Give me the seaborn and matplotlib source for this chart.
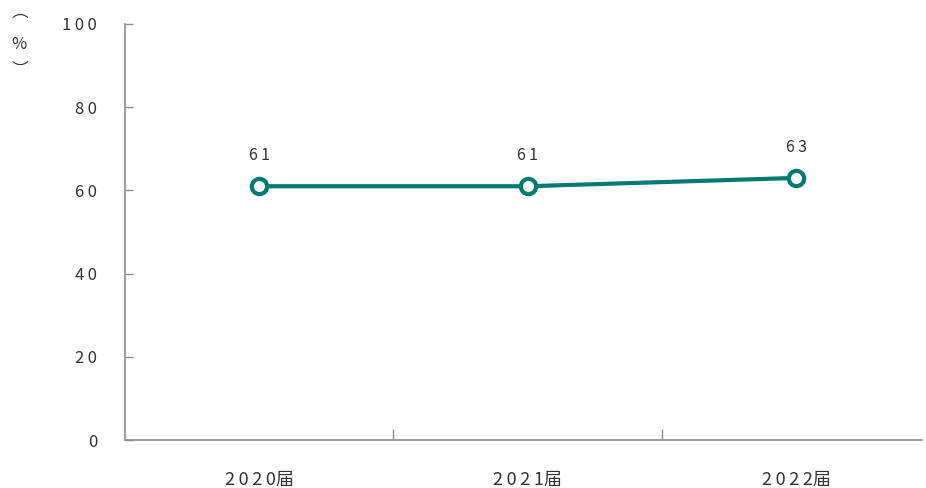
import pandas as pd
import matplotlib.pyplot as plt
import seaborn as sns

years = ['2020届', '2021届', '2022届']
rates = [61, 61, 63]
yticks = [0, 20, 40, 60, 80, 100]

teal = '#007b73'
grey = '#8c8c8c'
text_col = '#333333'

sns.set_style('white')
plt.rcParams['font.family'] = ['Noto Sans CJK SC', 'DejaVu Sans']

df = pd.DataFrame({'year': years, 'rate': rates})

fig = plt.figure(figsize=(9.26, 4.88), dpi=100)
ax = fig.add_axes([0.135, 0.098, 0.861, 0.853])

sns.lineplot(data=df, x='year', y='rate', ax=ax, color=teal, linewidth=3,
             marker='o', markersize=11, markerfacecolor='white',
             markeredgecolor=teal, markeredgewidth=3, sort=False)

sp = '\u2009'
for i, v in enumerate(rates):
    ax.annotate(sp.join(str(v)), (i, v), xytext=(0, 16), textcoords='offset points',
                ha='center', va='bottom', fontsize=11.5, color=text_col)

ax.set_xlim(-0.5, 2.47)
ax.set_ylim(0, 100)
ax.set_yticks(yticks)
ax.set_yticklabels([sp.join(str(t)) for t in yticks], fontsize=12, color=text_col)
ax.set_xticks(range(len(years)))
ax.set_xticklabels([sp.join(y[:4]) + y[4:] for y in years], fontsize=13, color=text_col)
ax.set_xticks([0.5, 1.5], minor=True)

ax.tick_params(axis='y', direction='in', length=6, width=1, color=grey, pad=20, left=True)
ax.tick_params(axis='x', which='major', length=0, pad=22)
ax.tick_params(axis='x', which='minor', direction='in', length=8, width=1, color=grey, bottom=True)

for s in ['top', 'right']:
    ax.spines[s].set_visible(False)
for s in ['left', 'bottom']:
    ax.spines[s].set_color(grey)
    ax.spines[s].set_linewidth(1.2)

ax.set_xlabel('')
ax.set_ylabel('')
# vertical "(%)" label, stacked
fig.text(0.021, 0.975, '︵', ha='center', va='center', fontsize=12, color=text_col)
fig.text(0.021, 0.908, '%', ha='center', va='center', fontsize=12, color=text_col)
fig.text(0.021, 0.855, '︶', ha='center', va='center', fontsize=12, color=text_col)

fig.savefig('out.png', dpi=100)
